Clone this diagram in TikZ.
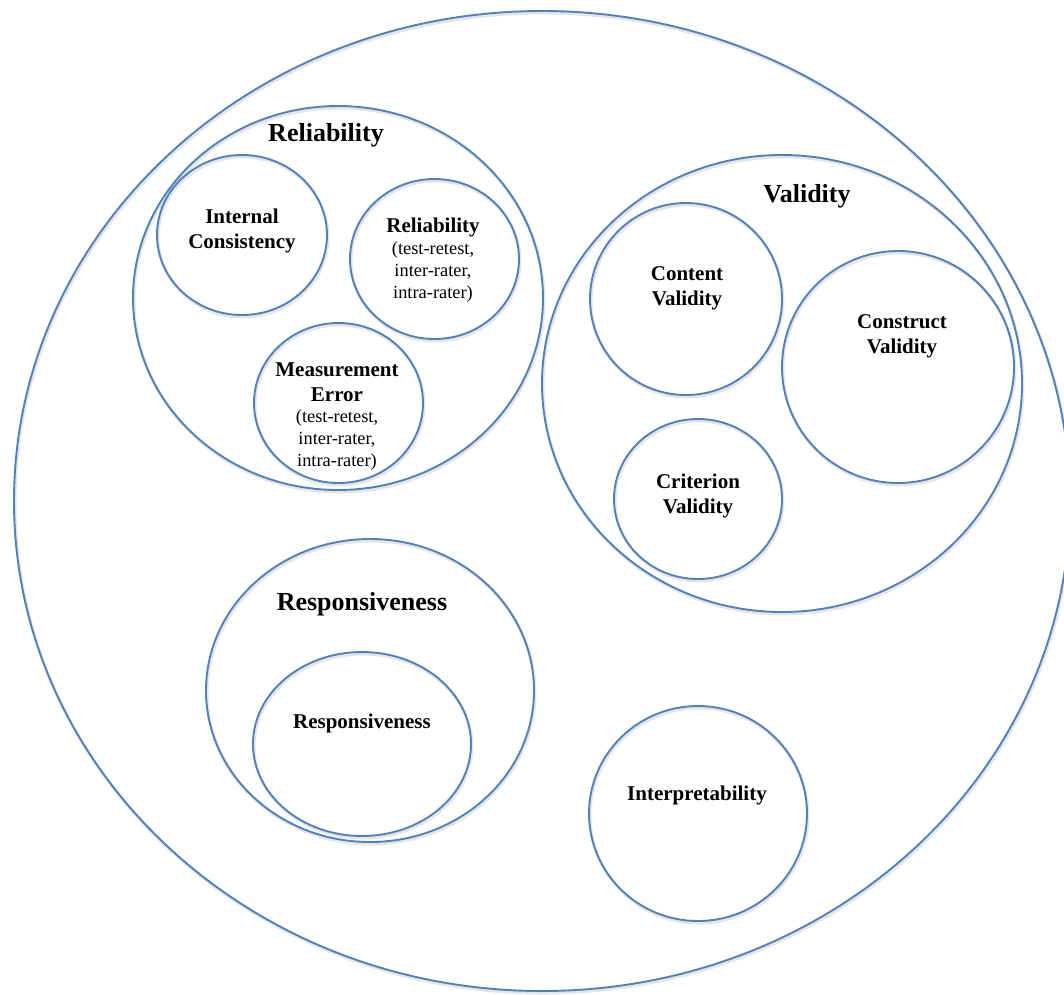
\documentclass[tikz,border=0pt]{standalone}
\usepackage{fontspec}
\setmainfont{Liberation Serif}
\definecolor{ringblue}{RGB}{79,129,189}
\begin{document}
\begin{tikzpicture}[x=1pt,y=-1pt,
  ring/.style={draw=ringblue,line width=1.9pt,
    preaction={draw=black!10,line width=3pt,transform canvas={xshift=1pt,yshift=-2pt}}},
  head/.style={font=\fontsize{26}{30}\selectfont\bfseries,anchor=base},
  ringtext/.style={font=\fontsize{21}{24.5}\selectfont\bfseries,align=center,anchor=base},
  ringnote/.style={font=\fontsize{18.4}{21.6}\selectfont,align=center,anchor=base}]
\useasboundingbox (0,0) rectangle (1064,994);
\clip (0,0) rectangle (1064,994);
% outer ring
\draw[ring] (542,501) ellipse [x radius=528,y radius=490];
% reliability group
\draw[ring] (338,298) ellipse [x radius=205,y radius=192];
\draw[ring] (242,235) ellipse [x radius=85,y radius=80];
\draw[ring] (434.5,259) ellipse [x radius=84.5,y radius=80];
\draw[ring] (338.5,403) ellipse [x radius=84.5,y radius=80];
\node[head] (relhead) at (326,141) {Reliability};
\node[ringtext] (intcons) at (242,248) {Internal\\Consistency};
\node[ringtext] (reltxt) at (433,232) {Reliability};
\node[ringnote] (relnote) at (433,298) {(test-retest,\\inter-rater,\\intra-rater)};
\node[ringtext] (measerr) at (337,401) {Measurement\\Error};
\node[ringnote] (measnote) at (337,466) {(test-retest,\\inter-rater,\\intra-rater)};
% validity group
\draw[ring] (782,383.5) ellipse [x radius=240,y radius=228.5];
\draw[ring] (686,299) circle [radius=96];
\draw[ring] (898,367) circle [radius=116];
\draw[ring] (698,499) ellipse [x radius=84,y radius=80];
\node[head] (valhead) at (807,202) {Validity};
\node[ringtext] (content) at (687,305) {Content\\Validity};
\node[ringtext] (construct) at (902,353) {Construct\\Validity};
\node[ringtext] (criterion) at (698,513) {Criterion\\Validity};
% responsiveness group
\draw[ring] (370,690.5) ellipse [x radius=164,y radius=151.5];
\draw[ring] (362,744) ellipse [x radius=109,y radius=92];
\node[head] (resphead) at (362,610) {Responsiveness};
\node[ringtext] (resptxt) at (362,728) {Responsiveness};
% interpretability
\draw[ring] (698,813.5) ellipse [x radius=109,y radius=107.5];
\node[ringtext] (interp) at (697,800) {Interpretability};
\end{tikzpicture}
\end{document}
